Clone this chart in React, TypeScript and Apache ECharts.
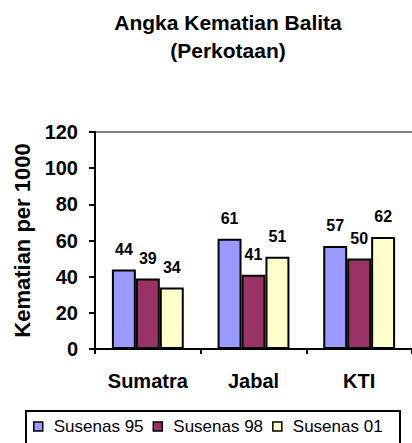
import React, { useEffect, useRef } from "react";
import * as echarts from "echarts";

const categories = ["Sumatra", "Jabal", "KTI"];
const seriesNames = ["Susenas 95", "Susenas 98", "Susenas 01"];
const susenas95 = [44, 61, 57];
const susenas98 = [39, 41, 50];
const susenas01 = [34, 51, 62];
const colors = ["#9999FF", "#993366", "#FFFFCC"];
const yTicks = { min: 0, max: 120, interval: 20 };

const FONT = "'Liberation Sans', Arial, Helvetica, sans-serif";

export default function App() {
  const ref = useRef<HTMLDivElement>(null);
  useEffect(() => {
    if (!ref.current) return;
    const chart = echarts.init(ref.current, undefined, { renderer: "svg" });
    const values = [susenas95, susenas98, susenas01];
    chart.setOption({
      animation: false,
      backgroundColor: "#ffffff",
      title: {
        text: "Angka Kematian Balita\n(Perkotaan)",
        left: 223,
        textAlign: "center",
        top: 3,
        textStyle: {
          fontFamily: FONT,
          fontWeight: "bold",
          fontSize: 21,
          lineHeight: 28,
          color: "#000",
        },
      },
      grid: { left: 95, top: 132, right: -1, bottom: 94, containLabel: false },
      xAxis: {
        type: "category",
        data: categories,
        axisLine: { lineStyle: { color: "#000", width: 2 } },
        axisTick: { show: true, length: 5, alignWithLabel: false, lineStyle: { color: "#000", width: 2 } },
        axisLabel: {
          fontFamily: FONT,
          fontWeight: "bold",
          fontSize: 20,
          color: "#000",
          margin: 22,
        },
      },
      yAxis: {
        type: "value",
        min: yTicks.min,
        max: yTicks.max,
        interval: yTicks.interval,
        name: "Kematian per 1000",
        nameLocation: "middle",
        nameGap: 48,
        nameRotate: 90,
        nameTextStyle: {
          fontFamily: FONT,
          fontWeight: "bold",
          fontSize: 22,
          color: "#000",
        },
        axisLine: { show: true, lineStyle: { color: "#000", width: 2 } },
        axisTick: { show: true, length: 6, lineStyle: { color: "#000", width: 2 } },
        splitLine: { show: false },
        axisLabel: {
          fontFamily: FONT,
          fontWeight: "bold",
          fontSize: 20,
          color: "#000",
          margin: 17,
        },
      },
      legend: {
        left: 33,
        top: 418,
        itemWidth: 9,
        itemHeight: 9,
        itemGap: 9,
        icon: "rect",
        padding: 0,
        data: seriesNames,
        textStyle: {
          fontFamily: FONT,
          fontSize: 17,
          color: "#000",
          padding: [0, 0, 0, 6],
        },
        itemStyle: { borderColor: "#000", borderWidth: 1.5 },
      },
      graphic: [
        {
          type: "rect",
          z: -1,
          shape: { x: 26, y: 411, width: 374, height: 60 },
          style: { fill: "#fff", stroke: "#000", lineWidth: 2 },
        },
        {
          type: "line",
          shape: { x1: 95, y1: 132, x2: 412, y2: 132 },
          style: { stroke: "#808080", lineWidth: 2 },
        },
      ],
      series: seriesNames.map((name, i) => ({
        name,
        type: "bar",
        data: values[i],
        barGap: "0%",
        barCategoryGap: "32%",
        itemStyle: { color: colors[i], borderColor: "#000", borderWidth: 2 },
        label: {
          show: true,
          position: "top",
          distance: 12,
          fontFamily: FONT,
          fontWeight: "bold",
          fontSize: 16,
          color: "#000",
        },
      })),
    });
    return () => chart.dispose();
  }, []);
  return (
    <div
      ref={ref}
      style={{ position: "fixed", left: 0, top: 0, width: 412, height: 443 }}
    />
  );
}
